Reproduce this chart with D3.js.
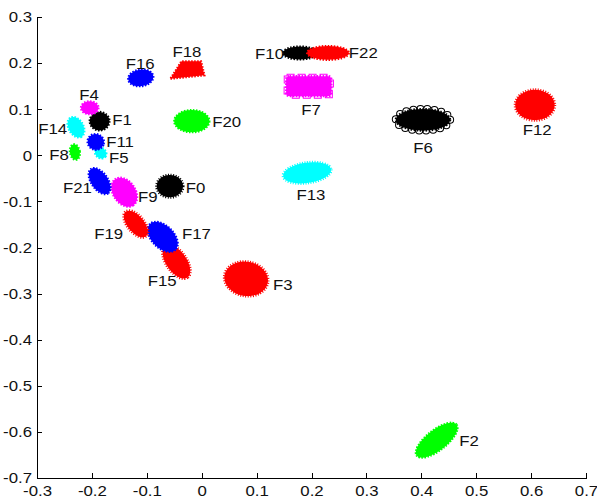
<!DOCTYPE html>
<html>
<head>
<meta charset="utf-8">
<style>
  body { margin: 0; background: #fff; }
  svg { display: block; font-family: "Liberation Sans", Arial, sans-serif; }
  .axis path, .axis line { stroke: #000; shape-rendering: crispEdges; }
  .axis text { font-size: 15px; fill: #111; font-family: "Liberation Sans", Arial, sans-serif; }
  .lbl { font-size: 15px; fill: #111; }
</style>
</head>
<body>
<svg></svg>
<script src="https://d3js.org/d3.v7.min.js"></script>
<script>

// cluster names and centres (data units)
var names = ["F0","F1","F2","F3","F4","F5","F6","F7","F8","F9","F10","F11",
             "F12","F13","F14","F15","F16","F17","F18","F19","F20","F21","F22"];
var cx = [-0.058,-0.186, 0.428, 0.081,-0.204,-0.184, 0.403, 0.195,-0.231,-0.141, 0.179,-0.193,
           0.607, 0.192,-0.229,-0.046,-0.111,-0.071,-0.026,-0.120,-0.018,-0.186, 0.230];
var cy = [-0.067, 0.074,-0.618,-0.268, 0.103, 0.005, 0.077, 0.150, 0.007,-0.080, 0.222, 0.029,
           0.109,-0.038, 0.061,-0.231, 0.168,-0.177, 0.185,-0.149, 0.074,-0.056, 0.222];
// spread of each cluster (half extent along its main axes) and tilt in degrees
var sx = [0.024,0.018,0.046,0.040,0.016,0.011,0.055,0.044,0.009,0.029,0.031,0.015,
          0.036,0.044,0.020,0.035,0.023,0.033,0.031,0.029,0.032,0.027,0.038];
var sy = [0.024,0.020,0.022,0.037,0.014,0.011,0.030,0.025,0.017,0.024,0.014,0.017,
          0.033,0.022,0.016,0.022,0.018,0.024,0.019,0.018,0.024,0.018,0.015];
var tilt = [0,0,-38,10,0,35,0,0,-10,55,0,20,0,-8,60,55,-8,45,0,50,0,55,0];
var colors = ["k","k","g","r","m","c","k","m","g","m","k","b",
              "r","c","c","r","b","b","r","r","g","b","r"];
// MATLAB-style marker of each cluster
var markers = ["*",">",".","*","p","h","o","s",".","<","d",".",
               "*","x",".","*",".","v","^","*",".","<","^"];
// label anchors (data units) and alignment
var lx = [-0.029,-0.163, 0.469, 0.130,-0.205,-0.169, 0.403, 0.199,-0.242,-0.116, 0.150,-0.174,
           0.611, 0.199,-0.245,-0.072,-0.112,-0.036,-0.027,-0.143, 0.019,-0.200, 0.268];
var ly = [-0.069, 0.077,-0.618,-0.281, 0.131,-0.006, 0.016, 0.100, 0.001,-0.090, 0.220, 0.029,
           0.055,-0.086, 0.059,-0.271, 0.200,-0.169, 0.224,-0.169, 0.074,-0.069, 0.222];
var la = ["s","s","s","s","m","s","m","m","e","s","e","s",
          "m","m","e","m","m","s","m","e","s","e","s"];

var xTicks = [-0.3,-0.2,-0.1,0,0.1,0.2,0.3,0.4,0.5,0.6,0.7];
var yTicks = [-0.7,-0.6,-0.5,-0.4,-0.3,-0.2,-0.1,0,0.1,0.2,0.3];

var colorMap = {k:"#000000", r:"#ff0000", g:"#00ff00", b:"#0000ff", m:"#ff00ff", c:"#00ffff"};
var anchorMap = {s:"start", m:"middle", e:"end"};
var stretch = 1.12; // the reference text is a little wider than Liberation Sans

var width = 597, height = 501;
var svg = d3.select("svg").attr("width", width).attr("height", height);

var x = d3.scaleLinear().domain([-0.3, 0.7]).range([37, 586]);
var y = d3.scaleLinear().domain([-0.7, 0.3]).range([478, 17]);
var kx = x(1) - x(0), ky = y(0) - y(1);

var fmt = function(d) { return d === 0 ? "0" : d.toFixed(1); };

var data = names.map(function(n, i) {
  return {name: n, cx: cx[i], cy: cy[i], rx: sx[i] * kx, ry: sy[i] * ky, tilt: tilt[i],
          col: colorMap[colors[i]], mk: markers[i],
          lx: lx[i], ly: ly[i], la: anchorMap[la[i]]};
});

// outline of a cluster, depending on the marker it is made of
function outline(d, inset) {
  var a = Math.max(d.rx - inset, 1), b = Math.max(d.ry - inset, 1);
  if (d.mk === "s") {
    var p = d3.path(), r = Math.min(a, b) * 0.35;
    p.moveTo(-a + r, -b); p.lineTo(a - r, -b); p.quadraticCurveTo(a, -b, a, -b + r);
    p.lineTo(a, b - r); p.quadraticCurveTo(a, b, a - r, b); p.lineTo(-a + r, b);
    p.quadraticCurveTo(-a, b, -a, b - r); p.lineTo(-a, -b + r); p.quadraticCurveTo(-a, -b, -a + r, -b);
    p.closePath();
    return p.toString();
  }
  if (d.mk === "^" && d.name === "F18") {
    return "M" + (-a) + "," + b + "L" + a + "," + (b * 0.6) + "L" + (a * 0.8) + "," + (-b) +
           "L" + (-a * 0.35) + "," + (-b) + "Z";
  }
  return "M" + a + ",0A" + a + "," + b + " 0 1,1 " + (-a) + ",0A" + a + "," + b + " 0 1,1 " + a + ",0Z";
}

var g = svg.append("g");
var blob = g.selectAll("g.cl").data(data).enter().append("g")
  .attr("class", "cl")
  .attr("transform", function(d) {
    return "translate(" + x(d.cx) + "," + y(d.cy) + ") rotate(" + d.tilt + ")";
  });

// hollow marker rims (circles, squares)
var hollow = blob.filter(function(d) { return d.mk === "o" || d.mk === "s"; });
[["col", 8], ["#fff", 6]].forEach(function(s) {
  hollow.append("path")
    .attr("d", function(d) { return outline(d, 3); })
    .attr("fill", "none")
    .attr("stroke", function(d) { return s[0] === "col" ? d.col : s[0]; })
    .attr("stroke-width", s[1])
    .attr("stroke-linecap", function(d) { return d.mk === "o" ? "round" : "square"; })
    .attr("stroke-dasharray", function(d) { return d.mk === "o" ? "0,7" : "0,11"; });
});

// filled body of each cluster
blob.append("path")
  .attr("d", function(d) { return outline(d, d.mk === "o" ? 3 : d.mk === "s" ? 1.5 : 0); })
  .attr("fill", function(d) { return d.col; })
  .attr("stroke", function(d) { return d.col; })
  .attr("stroke-width", function(d) { return "*x".indexOf(d.mk) >= 0 ? 3 : 2.2; })
  .attr("stroke-dasharray", function(d) { return "*x".indexOf(d.mk) >= 0 ? "1,1.5" : "1.5,1.5"; });

// labels
g.selectAll("text.lbl").data(data).enter().append("text")
  .attr("class", "lbl")
  .attr("transform", function(d) {
    return "translate(" + x(d.lx) + "," + y(d.ly) + ") scale(" + stretch + ",1)";
  })
  .attr("dy", "0.36em")
  .attr("text-anchor", function(d) { return d.la; })
  .text(function(d) { return d.name; });

// axes
svg.append("g").attr("class", "axis")
  .attr("transform", "translate(0," + y(-0.7) + ")")
  .call(d3.axisBottom(x).tickValues(xTicks).tickFormat(fmt)
    .tickSize(-5).tickSizeOuter(0).tickPadding(7));

svg.append("g").attr("class", "axis")
  .attr("transform", "translate(" + x(-0.3) + ",0)")
  .call(d3.axisLeft(y).tickValues(yTicks).tickFormat(fmt)
    .tickSize(-5).tickSizeOuter(0).tickPadding(5));

svg.selectAll(".axis text").each(function() {
  var t = d3.select(this), tx = +t.attr("x") || 0;
  t.attr("x", tx / stretch).attr("transform", "scale(" + stretch + ",1)").attr("fill", "#111");
});
</script>
</body>
</html>
